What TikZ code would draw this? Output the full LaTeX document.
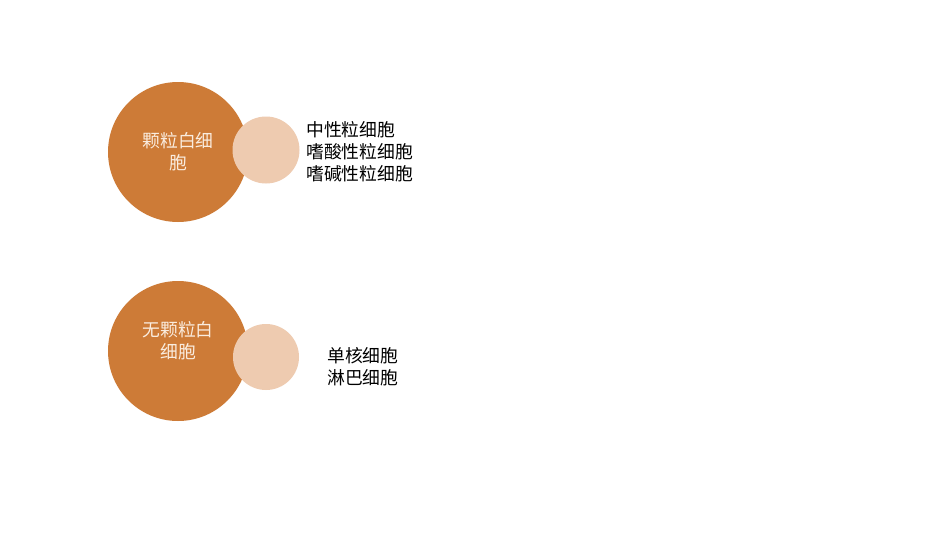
\documentclass[tikz,border=0pt]{standalone}
\usepackage{fontspec}
\newfontfamily\cjk{Noto Sans CJK SC}
\usepackage{tikz}
\usetikzlibrary{positioning}

\definecolor{cellorange}{RGB}{205,123,55}
\definecolor{cellpeach}{RGB}{238,203,176}
\definecolor{celltext}{RGB}{250,236,222}

\begin{document}
\begin{tikzpicture}[x=1pt, y=-1pt,
    font=\cjk\fontsize{17.8}{22}\selectfont]
	\useasboundingbox[fill=white] (0,0) rectangle (950,535);

	\begin{scope}[every node/.style={circle, inner sep=0pt}]
		\node[fill=cellorange, minimum size=140pt] (gran) at (178,152) {};
		\node[fill=cellorange, minimum size=140pt] (agran) at (178,351) {};
		\node[fill=cellpeach, minimum size=67pt] (granbub) at (266,150) {};
		\node[fill=cellpeach, minimum size=66pt] (agranbub) at (266,357) {};
	\end{scope}

	\begin{scope}[every node/.style={align=center, inner sep=0pt, text=celltext}]
		\node (granlbl) at (178,152) {颗粒白细\\胞};
		\node (agranlbl) at (178,341) {无颗粒白\\细胞};
	\end{scope}

	\begin{scope}[every node/.style={align=left, anchor=west, inner sep=0pt, text=black}]
		\node (granlist) at (306,152) {中性粒细胞\\嗜酸性粒细胞\\嗜碱性粒细胞};
		\node (agranlist) at (327,367) {单核细胞\\淋巴细胞};
	\end{scope}
\end{tikzpicture}
\end{document}
